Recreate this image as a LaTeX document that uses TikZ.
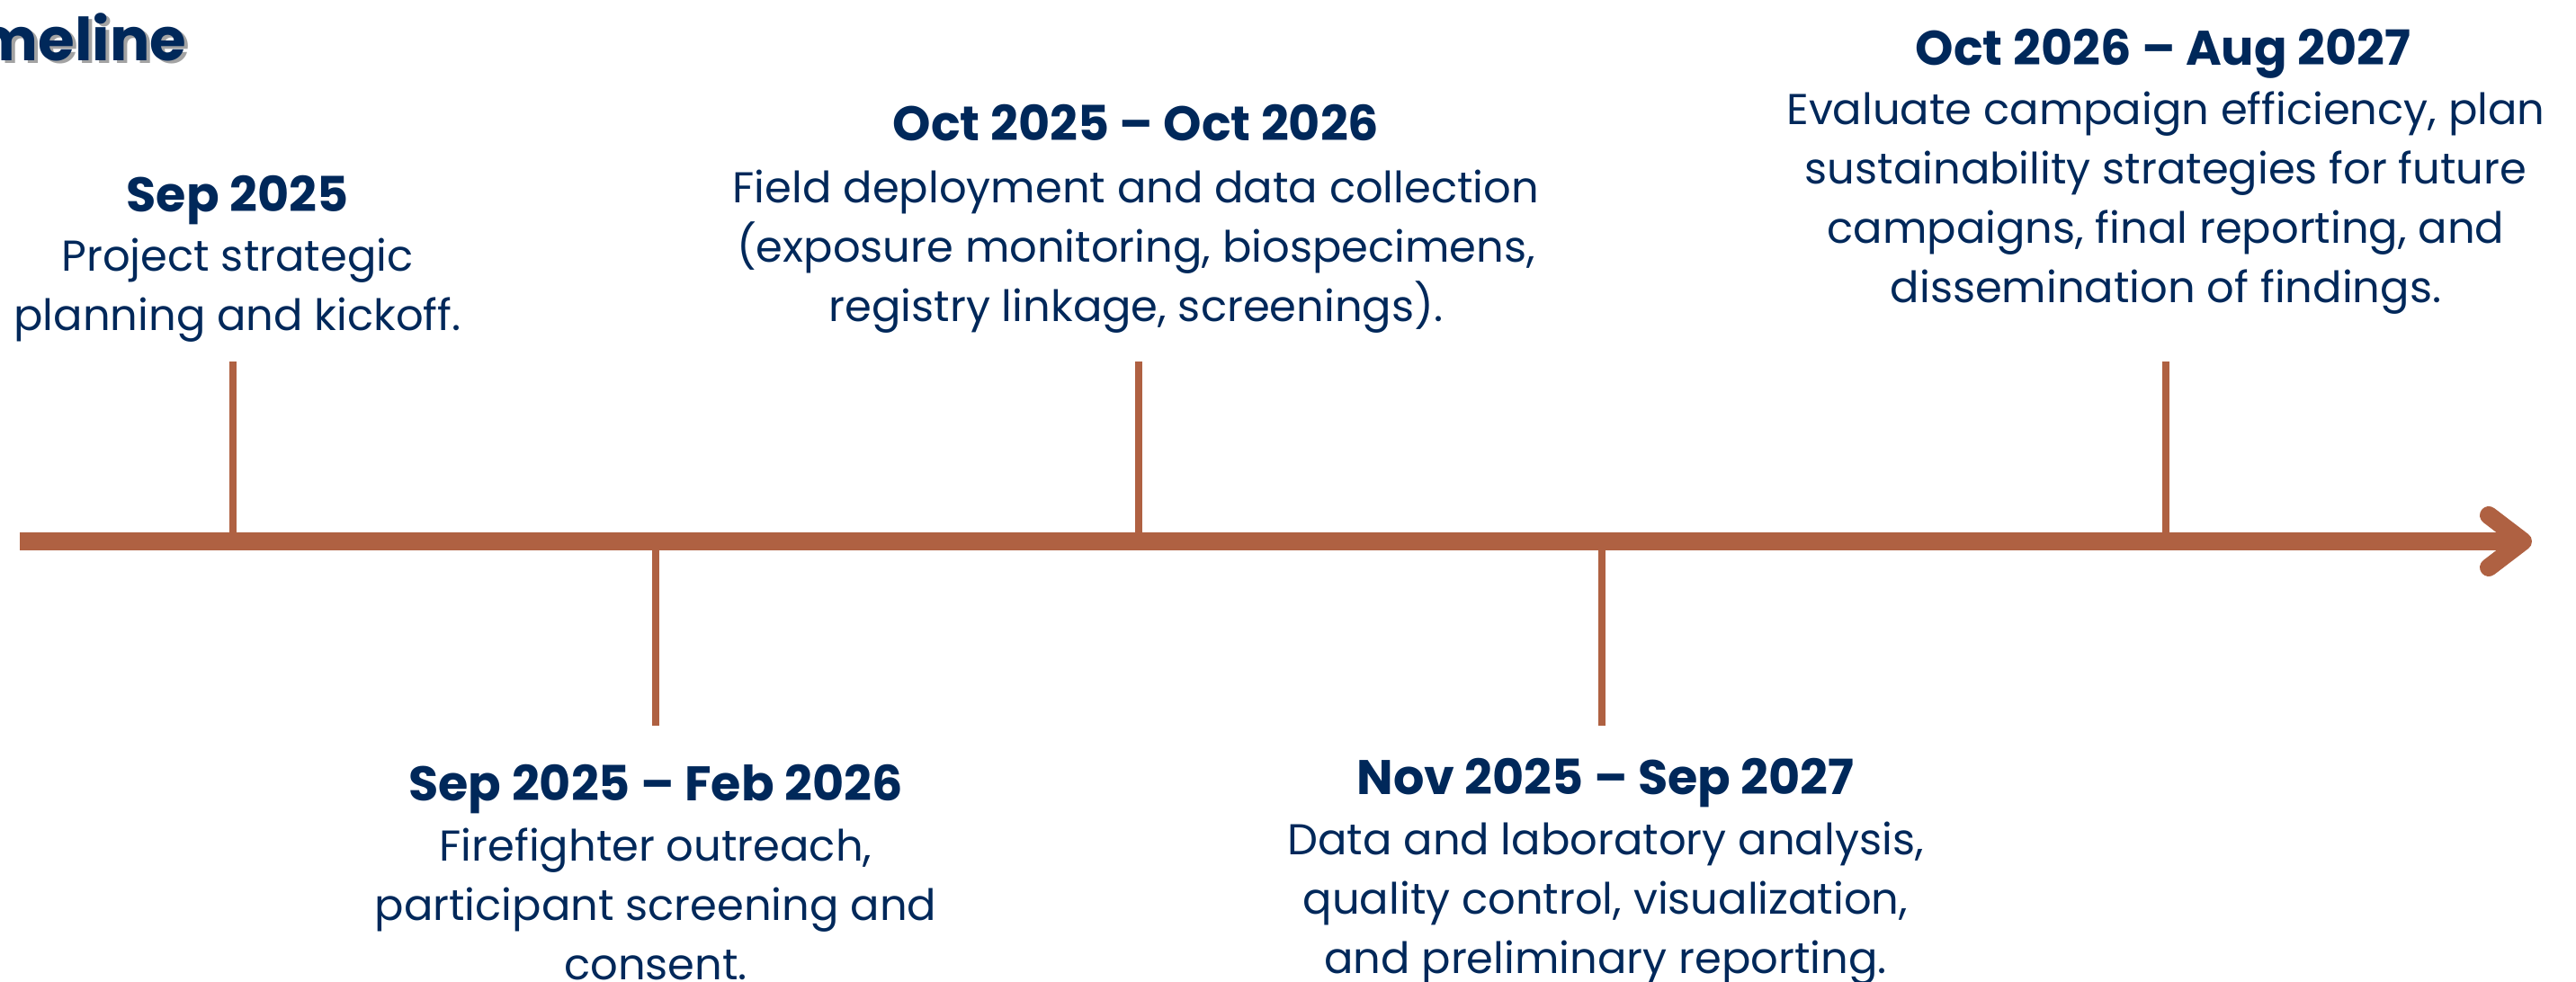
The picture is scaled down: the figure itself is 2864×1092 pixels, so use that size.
\documentclass[tikz,border=0pt]{standalone}
\usepackage{fontspec}
\setmainfont{Poppins}
\definecolor{navy}{HTML}{00285A}
\definecolor{rust}{HTML}{AF6142}
\definecolor{shade}{HTML}{A3A3A3}
\begin{document}
\begin{tikzpicture}[x=0.25pt,y=-0.25pt,
  hd/.style={font=\fontsize{13.5}{16.5}\selectfont\bfseries, text=navy, inner sep=0pt, anchor=base},
  bd/.style={font=\fontsize{12}{16.5}\selectfont, text=navy, inner sep=0pt, anchor=base, align=center},
  ttl/.style={font=\fontsize{16.5}{20}\selectfont\bfseries, inner sep=0pt, anchor=base east},
  tickline/.style={draw=rust, line width=2pt},
  axis/.style={draw=rust, line width=5pt},
  chevron/.style={draw=rust, line width=5pt, line cap=round, line join=round}]
\useasboundingbox (0,0) rectangle (2864,1092);
\clip (0,0) rectangle (2864,1092);
% title
\node[ttl, text=shade] (titleshadow) at (212,70) {Timeline};
\node[ttl, text=navy] (title) at (208,67) {Timeline};
% axis
\coordinate (axstart) at (22,602);
\coordinate (axtip) at (2805,602);
\coordinate (armup) at (2767,573);
\coordinate (armdn) at (2767,631);
\draw[axis] (axstart) -- (axtip);
\draw[chevron] (armup) -- (axtip) -- (armdn);
% ticks
\coordinate (t1) at (259,602);   \coordinate (t1e) at (259,402);
\coordinate (t2) at (729,602);   \coordinate (t2e) at (729,807);
\coordinate (t3) at (1266,602);  \coordinate (t3e) at (1266,402);
\coordinate (t4) at (1781,602);  \coordinate (t4e) at (1781,807);
\coordinate (t5) at (2408,602);  \coordinate (t5e) at (2408,402);
\draw[tickline] (t1) -- (t1e);
\draw[tickline] (t2) -- (t2e);
\draw[tickline] (t3) -- (t3e);
\draw[tickline] (t4) -- (t4e);
\draw[tickline] (t5) -- (t5e);
% block 1 (body anchored at baseline of its last line)
\node[hd] (h1) at (264,235) {Sep 2025};
\node[bd] (b1) at (264,367) {Project strategic\\planning and kickoff.};
% block 2
\node[hd] (h2) at (729,890) {Sep 2025 – Feb 2026};
\node[bd] (b2) at (729,1089) {Firefighter outreach,\\participant screening and\\consent.};
% block 3
\node[hd] (h3) at (1263,156) {Oct 2025 – Oct 2026};
\node[bd] (b3) at (1263,357) {Field deployment and data collection\\(exposure monitoring, biospecimens,\\registry linkage, screenings).};
% block 4
\node[hd] (h4) at (1785,883) {Nov 2025 – Sep 2027};
\node[bd] (b4) at (1785,1082) {Data and laboratory analysis,\\quality control, visualization,\\and preliminary reporting.};
% block 5
\node[hd] (h5) at (2405,72) {Oct 2026 – Aug 2027};
\node[bd] (b5) at (2408,336) {Evaluate campaign efficiency, plan\\sustainability strategies for future\\campaigns, final reporting, and\\dissemination of findings.};
\end{tikzpicture}
\end{document}
